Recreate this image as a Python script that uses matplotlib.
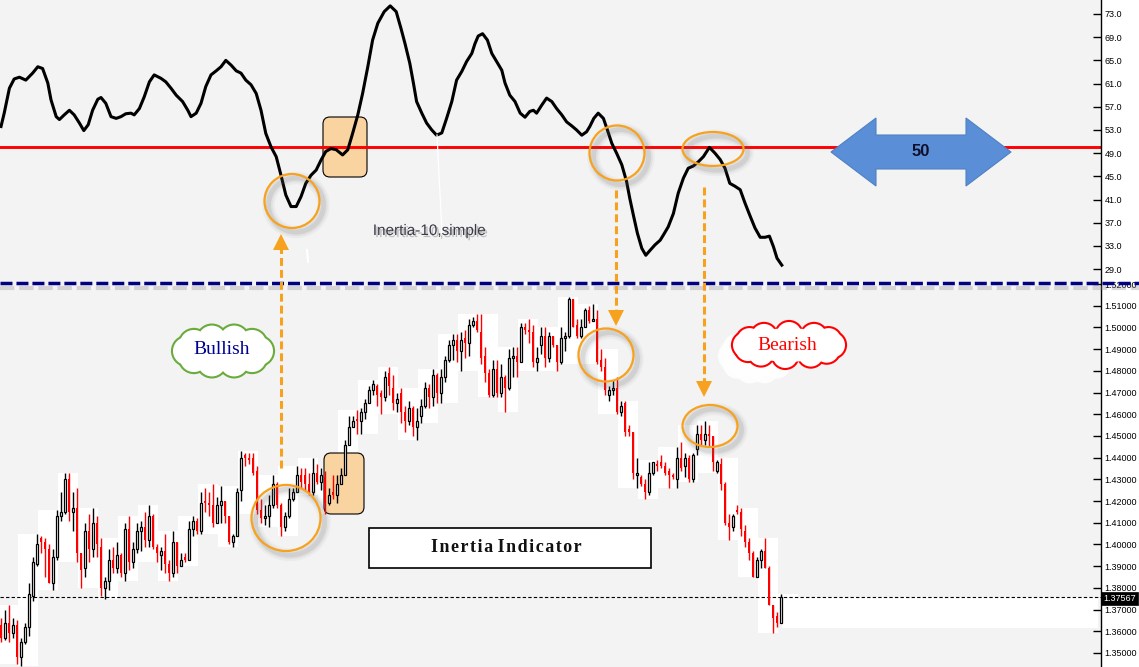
import numpy as np
import matplotlib
matplotlib.use("Agg")
import matplotlib.pyplot as plt
from matplotlib import font_manager
from matplotlib.patches import Rectangle, Ellipse, FancyBboxPatch, Polygon, Circle
import matplotlib.patheffects as pe

# ---------------- data ----------------
opens = [1.363, 1.357, 1.364, 1.359, 1.363, 1.348, 1.355, 1.362, 1.376, 1.391,
         1.403, 1.401, 1.398, 1.382, 1.394, 1.413, 1.415, 1.430, 1.415, 1.417,
         1.396, 1.389, 1.406, 1.398, 1.410, 1.399, 1.380, 1.383, 1.393, 1.389,
         1.395, 1.387, 1.407, 1.392, 1.398, 1.406, 1.408, 1.402, 1.413, 1.399,
         1.395, 1.397, 1.391, 1.387, 1.401, 1.390, 1.394, 1.393, 1.407, 1.411,
         1.406, 1.420, 1.419, 1.418, 1.410, 1.418, 1.420, 1.413, 1.401, 1.404,
         1.425, 1.441, 1.440, 1.440, 1.434, 1.416, 1.412, 1.413, 1.418, 1.428,
         1.418, 1.408, 1.413, 1.421, 1.424, 1.432, 1.432, 1.428, 1.424, 1.433,
         1.429, 1.431, 1.419, 1.424, 1.423, 1.428, 1.432, 1.446, 1.454, 1.458,
         1.457, 1.461, 1.465, 1.471, 1.473, 1.470, 1.468, 1.479, 1.472, 1.465,
         1.470, 1.461, 1.457, 1.463, 1.454, 1.459, 1.464, 1.472, 1.468, 1.478,
         1.470, 1.477, 1.485, 1.492, 1.494, 1.489, 1.495, 1.493, 1.501, 1.503,
         1.498, 1.487, 1.479, 1.469, 1.481, 1.470, 1.477, 1.472, 1.486, 1.487,
         1.484, 1.500, 1.499, 1.498, 1.484, 1.492, 1.496, 1.486, 1.496, 1.492,
         1.484, 1.495, 1.496, 1.513, 1.501, 1.496, 1.500, 1.508, 1.503, 1.504,
         1.485, 1.482, 1.469, 1.471, 1.472, 1.461, 1.465, 1.453, 1.452, 1.432,
         1.431, 1.428, 1.424, 1.433, 1.437, 1.438, 1.436, 1.434, 1.432, 1.430,
         1.440, 1.436, 1.440, 1.430, 1.444, 1.451, 1.448, 1.451, 1.450, 1.434,
         1.437, 1.428, 1.410, 1.408, 1.416, 1.415, 1.406, 1.401, 1.396, 1.385,
         1.393, 1.397, 1.389, 1.372, 1.367, 1.364]
highs = [1.366, 1.370, 1.372, 1.366, 1.365, 1.357, 1.364, 1.382, 1.394, 1.405,
         1.404, 1.403, 1.400, 1.398, 1.416, 1.424, 1.433, 1.433, 1.424, 1.426,
         1.396, 1.410, 1.414, 1.417, 1.413, 1.403, 1.385, 1.398, 1.399, 1.401,
         1.396, 1.410, 1.413, 1.401, 1.410, 1.411, 1.415, 1.418, 1.414, 1.400,
         1.399, 1.405, 1.393, 1.406, 1.401, 1.396, 1.396, 1.411, 1.413, 1.412,
         1.424, 1.426, 1.424, 1.428, 1.422, 1.427, 1.420, 1.413, 1.405, 1.426,
         1.443, 1.442, 1.442, 1.442, 1.436, 1.421, 1.418, 1.423, 1.432, 1.429,
         1.419, 1.415, 1.426, 1.426, 1.436, 1.435, 1.435, 1.433, 1.440, 1.437,
         1.435, 1.434, 1.426, 1.432, 1.432, 1.435, 1.448, 1.459, 1.459, 1.462,
         1.463, 1.467, 1.473, 1.476, 1.474, 1.471, 1.480, 1.482, 1.478, 1.470,
         1.472, 1.464, 1.466, 1.464, 1.463, 1.467, 1.475, 1.474, 1.481, 1.479,
         1.481, 1.487, 1.494, 1.497, 1.497, 1.498, 1.499, 1.504, 1.505, 1.506,
         1.506, 1.491, 1.481, 1.485, 1.485, 1.483, 1.478, 1.490, 1.491, 1.491,
         1.502, 1.502, 1.504, 1.501, 1.491, 1.500, 1.500, 1.498, 1.496, 1.492,
         1.500, 1.498, 1.514, 1.513, 1.504, 1.504, 1.509, 1.510, 1.511, 1.508,
         1.490, 1.486, 1.473, 1.476, 1.477, 1.466, 1.466, 1.455, 1.452, 1.440,
         1.432, 1.430, 1.438, 1.438, 1.439, 1.441, 1.438, 1.435, 1.433, 1.445,
         1.447, 1.442, 1.441, 1.442, 1.455, 1.455, 1.457, 1.455, 1.450, 1.439,
         1.440, 1.429, 1.414, 1.414, 1.418, 1.417, 1.409, 1.403, 1.397, 1.394,
         1.398, 1.403, 1.390, 1.372, 1.369, 1.377]
lows = [1.355, 1.356, 1.355, 1.357, 1.345, 1.344, 1.354, 1.358, 1.374, 1.390,
        1.396, 1.385, 1.382, 1.379, 1.393, 1.411, 1.414, 1.411, 1.406, 1.392,
        1.380, 1.385, 1.392, 1.394, 1.394, 1.376, 1.375, 1.379, 1.387, 1.387,
        1.385, 1.383, 1.388, 1.389, 1.396, 1.397, 1.399, 1.399, 1.398, 1.392,
        1.388, 1.387, 1.383, 1.385, 1.387, 1.390, 1.392, 1.393, 1.404, 1.405,
        1.405, 1.415, 1.413, 1.408, 1.410, 1.410, 1.410, 1.400, 1.399, 1.404,
        1.420, 1.436, 1.437, 1.432, 1.414, 1.410, 1.409, 1.408, 1.417, 1.417,
        1.404, 1.406, 1.412, 1.420, 1.424, 1.426, 1.425, 1.423, 1.423, 1.428,
        1.425, 1.414, 1.418, 1.421, 1.419, 1.428, 1.432, 1.446, 1.454, 1.451,
        1.451, 1.458, 1.465, 1.469, 1.464, 1.460, 1.466, 1.469, 1.462, 1.461,
        1.456, 1.452, 1.455, 1.450, 1.448, 1.456, 1.463, 1.463, 1.464, 1.465,
        1.465, 1.475, 1.484, 1.485, 1.484, 1.480, 1.486, 1.487, 1.500, 1.498,
        1.483, 1.475, 1.468, 1.468, 1.468, 1.468, 1.461, 1.471, 1.477, 1.477,
        1.484, 1.497, 1.493, 1.482, 1.480, 1.488, 1.482, 1.484, 1.491, 1.480,
        1.483, 1.489, 1.495, 1.500, 1.495, 1.495, 1.500, 1.502, 1.503, 1.483,
        1.480, 1.469, 1.466, 1.469, 1.460, 1.459, 1.450, 1.450, 1.430, 1.426,
        1.427, 1.421, 1.423, 1.432, 1.434, 1.435, 1.432, 1.426, 1.430, 1.426,
        1.434, 1.431, 1.429, 1.429, 1.441, 1.446, 1.446, 1.445, 1.434, 1.433,
        1.425, 1.409, 1.402, 1.406, 1.414, 1.404, 1.399, 1.393, 1.385, 1.385,
        1.389, 1.389, 1.372, 1.359, 1.362, 1.364]
closes = [1.357, 1.364, 1.359, 1.363, 1.348, 1.355, 1.362, 1.377, 1.392, 1.400,
          1.401, 1.398, 1.382, 1.394, 1.413, 1.415, 1.430, 1.415, 1.417, 1.396,
          1.388, 1.406, 1.398, 1.410, 1.400, 1.380, 1.383, 1.393, 1.389, 1.395,
          1.387, 1.407, 1.392, 1.398, 1.406, 1.408, 1.402, 1.413, 1.399, 1.396,
          1.397, 1.391, 1.387, 1.401, 1.390, 1.393, 1.393, 1.407, 1.411, 1.406,
          1.419, 1.419, 1.418, 1.410, 1.418, 1.420, 1.413, 1.401, 1.404, 1.424,
          1.440, 1.440, 1.439, 1.433, 1.416, 1.412, 1.413, 1.418, 1.428, 1.418,
          1.408, 1.413, 1.421, 1.424, 1.432, 1.429, 1.428, 1.424, 1.433, 1.429,
          1.432, 1.419, 1.423, 1.423, 1.428, 1.432, 1.446, 1.454, 1.457, 1.457,
          1.461, 1.465, 1.471, 1.474, 1.469, 1.468, 1.477, 1.473, 1.465, 1.467,
          1.461, 1.457, 1.463, 1.454, 1.457, 1.464, 1.472, 1.468, 1.478, 1.470,
          1.477, 1.485, 1.492, 1.494, 1.489, 1.494, 1.493, 1.501, 1.503, 1.499,
          1.486, 1.479, 1.469, 1.481, 1.470, 1.477, 1.472, 1.486, 1.487, 1.484,
          1.500, 1.499, 1.498, 1.484, 1.486, 1.496, 1.486, 1.496, 1.492, 1.484,
          1.495, 1.496, 1.513, 1.500, 1.496, 1.500, 1.508, 1.503, 1.504, 1.484,
          1.482, 1.471, 1.471, 1.472, 1.461, 1.464, 1.452, 1.452, 1.433, 1.433,
          1.428, 1.424, 1.433, 1.438, 1.436, 1.436, 1.433, 1.432, 1.431, 1.440,
          1.435, 1.440, 1.430, 1.441, 1.451, 1.448, 1.451, 1.450, 1.438, 1.438,
          1.428, 1.410, 1.408, 1.413, 1.415, 1.407, 1.401, 1.396, 1.385, 1.393,
          1.397, 1.389, 1.372, 1.366, 1.364, 1.37567]

# Inertia(10, simple) indicator: bar position -> value
ind_bar = [0, 0.8, 2.1, 3.3, 4.6, 6.2, 7.9, 9.2, 10.4, 11.7,
           12.5, 13.8, 14.6, 15.8, 17.1, 18.3, 19.6, 20.7, 21.8, 22.9,
           24.2, 25.0, 26.2, 27.5, 28.8, 30.0, 31.2, 32.5, 33.3, 34.6,
           35.8, 37.1, 38.3, 40.0, 41.2, 42.5, 43.8, 45.4, 46.7, 47.5,
           48.8, 50.0, 51.2, 52.5, 53.8, 55.0, 56.2, 57.5, 58.8, 60.0,
           61.2, 62.5, 63.8, 65.0, 66.2, 67.5, 68.8, 70.0, 71.2, 72.5,
           73.8, 75.0, 76.2, 77.5, 78.8, 80.0, 81.2, 82.5, 83.8, 85.4,
           86.7, 87.9, 89.2, 90.4, 91.7, 92.9, 94.2, 95.8, 97.3, 98.8,
           100.0,
           101.0, 102.2, 103.1, 103.9, 105.2, 106.4, 107.7, 108.9, 110.2, 111.4,
           112.7, 113.9, 115.2, 116.4, 117.7, 118.5, 119.3, 120.4, 121.6, 122.7,
           123.9, 125.2, 126.0, 127.2, 128.5, 129.8, 131.0, 132.2, 133.1, 133.9,
           135.2, 136.4, 137.7, 138.9, 140.2, 141.4, 142.7, 143.9, 145.2, 146.4,
           147.2, 148.2, 149.3, 150.6, 151.6, 152.7, 153.9, 155.2, 156.4, 157.2,
           158.1, 159.1, 160.2, 161.2, 162.2, 163.5, 164.8, 165.6, 166.8, 168.1,
           169.3, 170.6, 171.8, 173.1, 174.3, 175.6, 177.1, 178.5, 179.8, 181.0,
           182.2, 183.5, 184.8, 186.0, 187.2, 188.5, 189.8, 191.0, 192.1, 193.1,
           194.0, 195.2]
ind_val = [53.6, 55.9, 60.2, 61.8, 62.1, 61.6, 62.8, 63.9, 63.6, 61.1,
           58.2, 55.3, 54.8, 55.6, 56.4, 55.6, 54.2, 52.9, 53.9, 56.4,
           58.3, 58.6, 57.6, 55.3, 55.0, 55.3, 55.8, 55.9, 55.6, 56.7,
           58.7, 61.3, 62.5, 61.9, 61.3, 60.2, 59.0, 57.9, 56.4, 55.3,
           55.9, 57.6, 60.5, 62.5, 63.2, 63.9, 65.0, 64.2, 63.2, 62.8,
           61.6, 60.8, 59.3, 56.4, 52.4, 50.1, 48.4, 45.2, 41.8, 39.8,
           39.8, 41.5, 43.8, 45.2, 46.1, 47.8, 49.3, 49.8, 49.6, 48.7,
           49.6, 52.4, 55.6, 59.3, 63.9, 68.5, 71.4, 73.4, 74.4, 73.4,
           70.5,
           67.9, 64.5, 61.1, 57.9, 55.9, 54.2, 53.0, 52.1, 52.5, 55.0,
           57.9, 61.6, 63.1, 64.8, 66.2, 67.9, 69.2, 69.6, 68.5, 66.2,
           64.8, 63.3, 61.1, 59.0, 57.9, 55.9, 55.2, 56.2, 56.4, 55.9,
           57.3, 58.5, 57.9, 56.7, 55.6, 54.4, 53.7, 53.0, 52.1, 52.7,
           53.6, 55.0, 55.9, 55.0, 53.0, 50.7, 49.0, 47.0, 44.1, 41.2,
           38.3, 35.2, 32.6, 31.4, 32.2, 33.2, 34.0, 34.9, 36.3, 38.6,
           42.1, 44.7, 46.4, 46.8, 47.5, 48.4, 50.0, 49.0, 47.9, 46.4,
           43.8, 43.3, 42.7, 40.4, 38.3, 36.1, 34.5, 34.5, 34.7, 32.9,
           30.9, 29.7]
level = 50
last_price = 1.37567
top_ticks = [29, 33, 37, 41, 45, 49, 53, 57, 61, 65, 69, 73]
bot_ticks = [1.35, 1.36, 1.37, 1.38, 1.39, 1.40, 1.41, 1.42, 1.43, 1.44,
             1.45, 1.46, 1.47, 1.48, 1.49, 1.50, 1.51, 1.52]

# ---------------- fonts ----------------
names = {f.name for f in font_manager.fontManager.ttflist}
if 'Liberation Sans Narrow' in names:
    TICKFONT, TICK_FS = 'Liberation Sans Narrow', 7.2
elif 'Liberation Sans' in names:
    TICKFONT, TICK_FS = 'Liberation Sans', 6.5
else:
    TICKFONT, TICK_FS = 'DejaVu Sans', 5.8
plt.rcParams['font.family'] = [TICKFONT, 'DejaVu Sans']
SERIF = ['Liberation Serif', 'DejaVu Serif']
SANS = ['Liberation Sans', 'DejaVu Sans']

# ---------------- figure / axes ----------------
W, H = 1139, 667
AXR, SPLIT = 1101, 283
BG = '#F3F3F3'
ORANGE = '#F7A21E'
fig = plt.figure(figsize=(W / 100, H / 100), dpi=100)
fig.patch.set_facecolor('white')
ax_top = fig.add_axes([0, (H - SPLIT) / H, AXR / W, SPLIT / H])
ax_bot = fig.add_axes([0, 0, AXR / W, (H - SPLIT) / H])
ov = fig.add_axes([0, 0, 1, 1], zorder=10)
ov.set_xlim(0, W)
ov.set_ylim(H, 0)
ov.axis('off')
ov.patch.set_alpha(0)

XL = (-0.25, 275.0)
for ax in (ax_top, ax_bot):
    ax.set_facecolor(BG)
    ax.set_xlim(*XL)
    for s in ('top', 'left', 'bottom'):
        ax.spines[s].set_visible(False)
    ax.spines['right'].set_color('black')
    ax.spines['right'].set_linewidth(1)
    ax.set_xticks([])
    ax.yaxis.set_ticks_position('right')
    ax.tick_params(axis='y', direction='in', length=6, width=1, pad=2.5,
                   labelsize=TICK_FS, colors='black')

ax_top.set_ylim(26.62, 75.41)
ax_top.set_yticks(top_ticks)
ax_top.set_yticklabels([f"{t:.1f}" for t in top_ticks])
ax_bot.set_ylim(1.3435, 1.5205)
ax_bot.set_yticks(bot_ticks)
ax_bot.set_yticklabels([f"{t:.5f}" for t in bot_ticks])

# ---------------- indicator panel ----------------
ax_top.axhline(level, color='#FF0000', lw=2.1, zorder=2)
ax_top.plot(ind_bar, ind_val, color='black', lw=2.2, zorder=3,
            solid_joinstyle='round')

# ---------------- candlesticks ----------------
n = len(closes)
xs = np.arange(n)
# white blocks behind groups of five candles
for g in range(0, n, 5):
    lo = min(lows[g:g + 5]); hi = max(highs[g:g + 5])
    ax_bot.add_patch(Rectangle((g - 0.75, lo), 5, hi - lo, fc='white',
                               ec='none', zorder=1))
ax_bot.add_patch(Rectangle((n - 0.75, 1.3615), XL[1] - n, last_price - 1.3615,
                           fc='white', ec='none', zorder=1))
ax_bot.axhline(last_price, color='black', lw=0.8, ls=(0, (3, 2)), zorder=2)

cols = ['black' if c >= o else '#FF0000' for o, c in zip(opens, closes)]
ax_bot.vlines(xs, lows, highs, colors=cols, lw=1.0, zorder=3)
for i in range(n):
    o, c = opens[i], closes[i]
    b = min(o, c)
    h = max(abs(c - o), 0.00035)
    if c >= o:
        ax_bot.add_patch(Rectangle((i - 0.3, b), 0.6, h, fc='white',
                                   ec='black', lw=0.9, zorder=4))
    else:
        ax_bot.add_patch(Rectangle((i - 0.36, b), 0.72, h, fc='#FF0000',
                                   ec='none', zorder=4))

# ---------------- decorations (pixel overlay) ----------------
PT = ov.transData
# peach boxes (beneath the data)
ax_top.add_patch(FancyBboxPatch((323, 117), 44, 60, boxstyle='round,pad=0,rounding_size=7',
                                fc='#F9D3A0', ec='black', lw=0.8, transform=PT, zorder=1.5))
ax_bot.add_patch(FancyBboxPatch((324, 453), 40, 61, boxstyle='round,pad=0,rounding_size=7',
                                fc='#F9D3A0', ec='black', lw=0.8, transform=PT, zorder=1.5))

# thin white marks in the top panel
ov.plot([437, 442], [135, 233], color='white', lw=0.9, zorder=4)
ov.plot([307, 308], [250, 262], color='white', lw=1.5, zorder=4)

# navy separator with shadow
ov.plot([0, W], [287.5, 287.5], color='#8A8A8A', lw=3, alpha=0.3,
        ls=(0, (3.45, 1.15)), zorder=5)
ov.plot([0, W], [283, 283], color='#000080', lw=2.5, ls=(0, (3.45, 1.15)), zorder=6)


def oring(cx, cy, w, h):
    for lw, a in [(9, 0.05), (6, 0.08), (3.5, 0.12)]:
        ov.add_patch(Ellipse((cx + 4, cy + 4), w, h, fc='none', ec='#606060',
                             lw=lw, alpha=a, zorder=7))
    ov.add_patch(Ellipse((cx, cy), w, h, fc='none', ec=ORANGE, lw=1.6, zorder=8))


oring(292, 201, 55, 54)
oring(617, 153, 55, 55)
oring(713, 149, 61, 34)
oring(286, 518, 69, 66)
oring(606, 355, 55, 53)
oring(710, 426, 55, 42)


def darrow(x, y_tail, y_tip):
    d = 1 if y_tip > y_tail else -1
    ov.plot([x, x], [y_tail, y_tip - d * 14], color=ORANGE, lw=2.2,
            ls=(0, (2.6, 1.3)), zorder=8)
    ov.add_patch(Polygon([(x - 8, y_tip - d * 16), (x + 8, y_tip - d * 16), (x, y_tip)],
                         closed=True, fc=ORANGE, ec='none', zorder=8))


darrow(281, 468, 234)
darrow(616, 190, 326)
darrow(704, 187, 397)


def cloud(cx, cy, w, h, edge, angs, z=9, shadow=False):
    r = min(w, h) * 0.27
    a, b = w / 2 - r, h / 2 - r
    pts = [(cx + a * np.cos(t), cy + b * np.sin(t)) for t in np.deg2rad(angs)]
    if edge is not None:
        for p in pts:
            ov.add_patch(Circle(p, r, fc='none', ec=edge, lw=3.0, zorder=z))
    for p in pts:
        ov.add_patch(Circle(p, r, fc='white', ec='none', zorder=z + 0.1,
                            alpha=0.85 if shadow else 1))
    ov.add_patch(Ellipse((cx, cy), 2 * a + r, 2 * b + r, fc='white', ec='none',
                         zorder=z + 0.2, alpha=0.85 if shadow else 1))


ANG = [0, 36, 72, 108, 144, 180, 216, 252, 288, 324]
cloud(223, 351, 100, 52, '#6AAB3C', ANG)
ov.text(222, 349, 'Bullish', family=SERIF, fontsize=14, color='#000090',
        ha='center', va='center', zorder=9.5)
cloud(757, 356, 78, 56, None, ANG, z=8.5, shadow=True)
cloud(789, 345, 112, 46, '#FF0000', [0, 30, 60, 95, 130, 160, 180, 205, 235, 270, 305, 335])
ov.text(787, 346, 'Bearish', family=SERIF, fontsize=14, color='#FF0000',
        ha='center', va='center', zorder=9.5)

# "Inertia Indicator" label box
ov.add_patch(Rectangle((369, 528), 282, 40, fc='white', ec='black', lw=1.2, zorder=9))
ov.text(506, 548, 'I n e r t i a   I n d i c a t o r'.replace(' ', '\u200a').replace('\u200a\u200a\u200a', ' '),
        family=SERIF, fontsize=13, fontweight='bold',
        color='#111111', ha='center', va='center', zorder=9.5)

# indicator caption
ov.text(429, 231, 'Inertia-10,simple', family=SANS, fontsize=11, color='#3A3A48',
        ha='center', va='center', zorder=9,
        path_effects=[pe.SimplePatchShadow(offset=(1.5, -1.5), shadow_rgbFace='#777777',
                                           alpha=0.45), pe.Normal()])

# blue double arrow with "50"
ov.add_patch(Polygon([(831, 152), (876, 118), (876, 135), (966, 135), (966, 118),
                      (1011, 152), (966, 186), (966, 169), (876, 169), (876, 186)],
                     closed=True, fc='#5A8ED6', ec='#4F80C4', lw=0.8, zorder=9))
ov.text(921, 152, '50', fontsize=12, fontweight='bold', color='#10102A',
        family=SANS, ha='center', va='center', zorder=9.5)

# last-price tag on the axis
ov.add_patch(Rectangle((1101, 592), 37, 13, fc='black', ec='black', lw=0.5, zorder=9))
ov.text(1119.5, 598.5, '1.37567', color='white', fontsize=TICK_FS, ha='center',
        va='center', zorder=9.5)

fig.savefig('out.png', dpi=100, facecolor='white')
